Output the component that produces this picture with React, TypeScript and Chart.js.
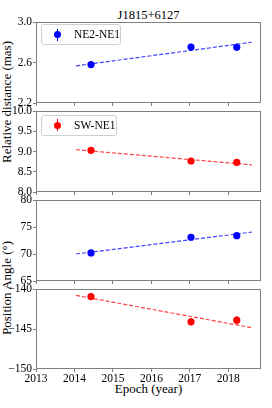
import React, { useEffect, useRef } from "react";
import { Chart, registerables } from "chart.js";
Chart.register(...registerables);

// ---- data ----
const epochs = [2014.43, 2017.03, 2018.22];
const fitEpochs = [2014.04, 2018.61];

const distNE2 = [2.58, 2.752, 2.75];
const distNE2Err = [0.02, 0.033, 0.037];
const distNE2Fit = [2.567, 2.8];

const distSW = [9.03, 8.765, 8.73];
const distSWErr = [0.055, 0.065, 0.065];
const distSWFit = [9.045, 8.67];

const paNE2 = [70.2, 73.1, 73.4];
const paNE2Err = [0.43, 0.5, 0.5];
const paNE2Fit = [70.0, 74.05];

const paSW = [-140.95, -144.1, -143.9];
const paSWErr = [0.44, 0.44, 0.47];
const paSWFit = [-140.8, -144.84];

const xTickLabels = ["2013", "2014", "2015", "2016", "2017", "2018"];

const FONT = "'Liberation Serif', 'Times New Roman', serif";
const W = 272;
const H = 408;
const PLOT_L = 36;
const PLOT_R = 261;

type Panel = {
  top: number;
  bottom: number;
  vals: number[];
  errs: number[];
  fit: number[];
  color: string;
  fitColor: string;
  min: number;
  max: number;
  step: number;
  fmt: (v: number) => string;
  showX: boolean;
};

const panels: Panel[] = [
  { top: 22, bottom: 103, vals: distNE2, errs: distNE2Err, fit: distNE2Fit, color: "#0000ff", fitColor: "rgba(0,0,255,0.75)", min: 2.2, max: 3.0, step: 0.4, fmt: (v) => v.toFixed(1), showX: false },
  { top: 111, bottom: 192, vals: distSW, errs: distSWErr, fit: distSWFit, color: "#ff0000", fitColor: "rgba(255,0,0,0.75)", min: 8.0, max: 10.0, step: 0.5, fmt: (v) => v.toFixed(1), showX: false },
  { top: 200, bottom: 281, vals: paNE2, errs: paNE2Err, fit: paNE2Fit, color: "#0000ff", fitColor: "rgba(0,0,255,0.75)", min: 65, max: 80, step: 5, fmt: (v) => String(Math.round(v)), showX: false },
  { top: 289, bottom: 369, vals: paSW, errs: paSWErr, fit: paSWFit, color: "#ff0000", fitColor: "rgba(255,0,0,0.75)", min: -150, max: -140, step: 5, fmt: (v) => String(Math.round(v)).replace("-", "\u2212"), showX: true },
];

const framePlugin = {
  id: "frame",
  afterDraw(chart: any) {
    const a = chart.chartArea;
    const ctx = chart.ctx;
    ctx.save();
    ctx.strokeStyle = "#808080";
    ctx.lineWidth = 1;
    ctx.strokeRect(Math.round(a.left) + 0.5, Math.round(a.top) + 0.5, Math.round(a.right - a.left) - 1, Math.round(a.bottom - a.top) - 1);
    ctx.restore();
  },
};

const errPlugin = {
  id: "errbars",
  beforeDatasetsDraw(chart: any, _args: any, opts: any) {
    const ctx = chart.ctx;
    const xs = chart.scales.x;
    const ys = chart.scales.y;
    const errs: number[] = opts.errs || [];
    const ds = chart.data.datasets[1];
    ctx.save();
    ctx.strokeStyle = opts.color;
    ctx.lineWidth = 1.5;
    ds.data.forEach((p: any, i: number) => {
      const px = xs.getPixelForValue(p.x);
      const y1 = ys.getPixelForValue(p.y - errs[i]);
      const y2 = ys.getPixelForValue(p.y + errs[i]);
      ctx.beginPath();
      ctx.moveTo(px, y1);
      ctx.lineTo(px, y2);
      ctx.stroke();
    });
    ctx.restore();
  },
};

function PanelChart({ p }: { p: Panel }) {
  const ref = useRef<HTMLCanvasElement>(null);
  useEffect(() => {
    if (!ref.current) return;
    const xH = p.showX ? 22 : 4;
    const chart = new Chart(ref.current, {
      type: "scatter",
      data: {
        datasets: [
          {
            type: "line",
            data: fitEpochs.map((x, i) => ({ x, y: p.fit[i] })),
            borderColor: p.fitColor,
            borderWidth: 1.2,
            borderDash: [4, 2],
            pointRadius: 0,
            fill: false,
          } as any,
          {
            data: epochs.map((x, i) => ({ x, y: p.vals[i] })),
            backgroundColor: p.color,
            borderWidth: 0,
            pointRadius: 3.6,
          },
        ],
      },
      options: {
        responsive: false,
        animation: false,
        events: [],
        layout: { padding: { left: 0, right: W - PLOT_R, top: p.top, bottom: H - p.bottom - xH } },
        plugins: {
          legend: { display: false },
          tooltip: { enabled: false },
          errbars: { errs: p.errs, color: p.color },
        } as any,
        scales: {
          x: {
            type: "linear",
            min: 2013,
            max: 2018.85,
            afterFit: (s: any) => { s.height = xH; },
            border: { display: false },
            grid: { drawOnChartArea: false, drawTicks: true, tickLength: 3, color: "#808080" },
            ticks: {
              display: p.showX,
              stepSize: 1,
              includeBounds: false,
              padding: 0,
              color: "#000",
              font: { family: FONT, size: 11.5 },
              maxRotation: 0,
              autoSkip: false,
              callback: (v: any) => {
                const s = String(Math.round(Number(v)));
                return xTickLabels.includes(s) ? s : "";
              },
            },
          },
          y: {
            type: "linear",
            min: p.min,
            max: p.max,
            afterFit: (s: any) => { s.width = PLOT_L; },
            border: { display: false },
            grid: { drawOnChartArea: false, drawTicks: true, tickLength: 3, color: "#808080" },
            ticks: {
              stepSize: p.step,
              includeBounds: false,
              padding: 1,
              color: "#000",
              font: { family: FONT, size: 11.5 },
              callback: (v: any) => p.fmt(Number(v)),
            },
          },
        },
      },
      plugins: [framePlugin, errPlugin],
    });
    return () => chart.destroy();
  }, [p]);
  return (
    <canvas
      ref={ref}
      width={W}
      height={H}
      style={{ position: "absolute", left: 0, top: 0, width: W, height: H }}
    />
  );
}

function LegendBox({ top, color, label, width }: { top: number; color: string; label: string; width: number }) {
  return (
    <div
      style={{
        position: "absolute",
        left: 41,
        top,
        width,
        height: 21,
        border: "1px solid #d0d0d0",
        borderRadius: 3,
        background: "rgba(255,255,255,0.8)",
        boxSizing: "border-box",
      }}
    >
      <div style={{ position: "absolute", left: 14.5, top: 3.5, width: 1.5, height: 12, background: color }} />
      <div style={{ position: "absolute", left: 12, top: 6, width: 7, height: 7, borderRadius: "50%", background: color }} />
      <div
        style={{
          position: "absolute",
          left: 32,
          top: 0,
          height: 19,
          lineHeight: "19px",
          fontFamily: FONT,
          fontSize: 11.5,
          color: "#000",
          whiteSpace: "nowrap",
        }}
      >
        {label}
      </div>
    </div>
  );
}

const textStyle: React.CSSProperties = {
  position: "absolute",
  fontFamily: FONT,
  color: "#000",
  whiteSpace: "nowrap",
  transform: "translate(-50%, -50%)",
};

export default function App() {
  return (
    <div style={{ position: "absolute", left: 0, top: 0, width: W, height: H, background: "#fff", overflow: "hidden" }}>
      <div style={{ ...textStyle, left: 148.5, top: 14.5, fontSize: 12.5 }}>J1815+6127</div>
      <div style={{ ...textStyle, left: 148.5, top: 389, fontSize: 13 }}>Epoch (year)</div>
      <div style={{ ...textStyle, left: 6.5, top: 101.5, fontSize: 13, transform: "translate(-50%, -50%) rotate(-90deg)" }}>
        Relative distance (mas)
      </div>
      <div style={{ ...textStyle, left: 6.5, top: 288, fontSize: 13, transform: "translate(-50%, -50%) rotate(-90deg)" }}>
        Position Angle (°)
      </div>
      {panels.map((p, i) => (
        <PanelChart key={i} p={p} />
      ))}
      <LegendBox top={24} color="#0000ff" label="NE2-NE1" width={80} />
      <LegendBox top={114.5} color="#ff0000" label="SW-NE1" width={76} />
    </div>
  );
}
